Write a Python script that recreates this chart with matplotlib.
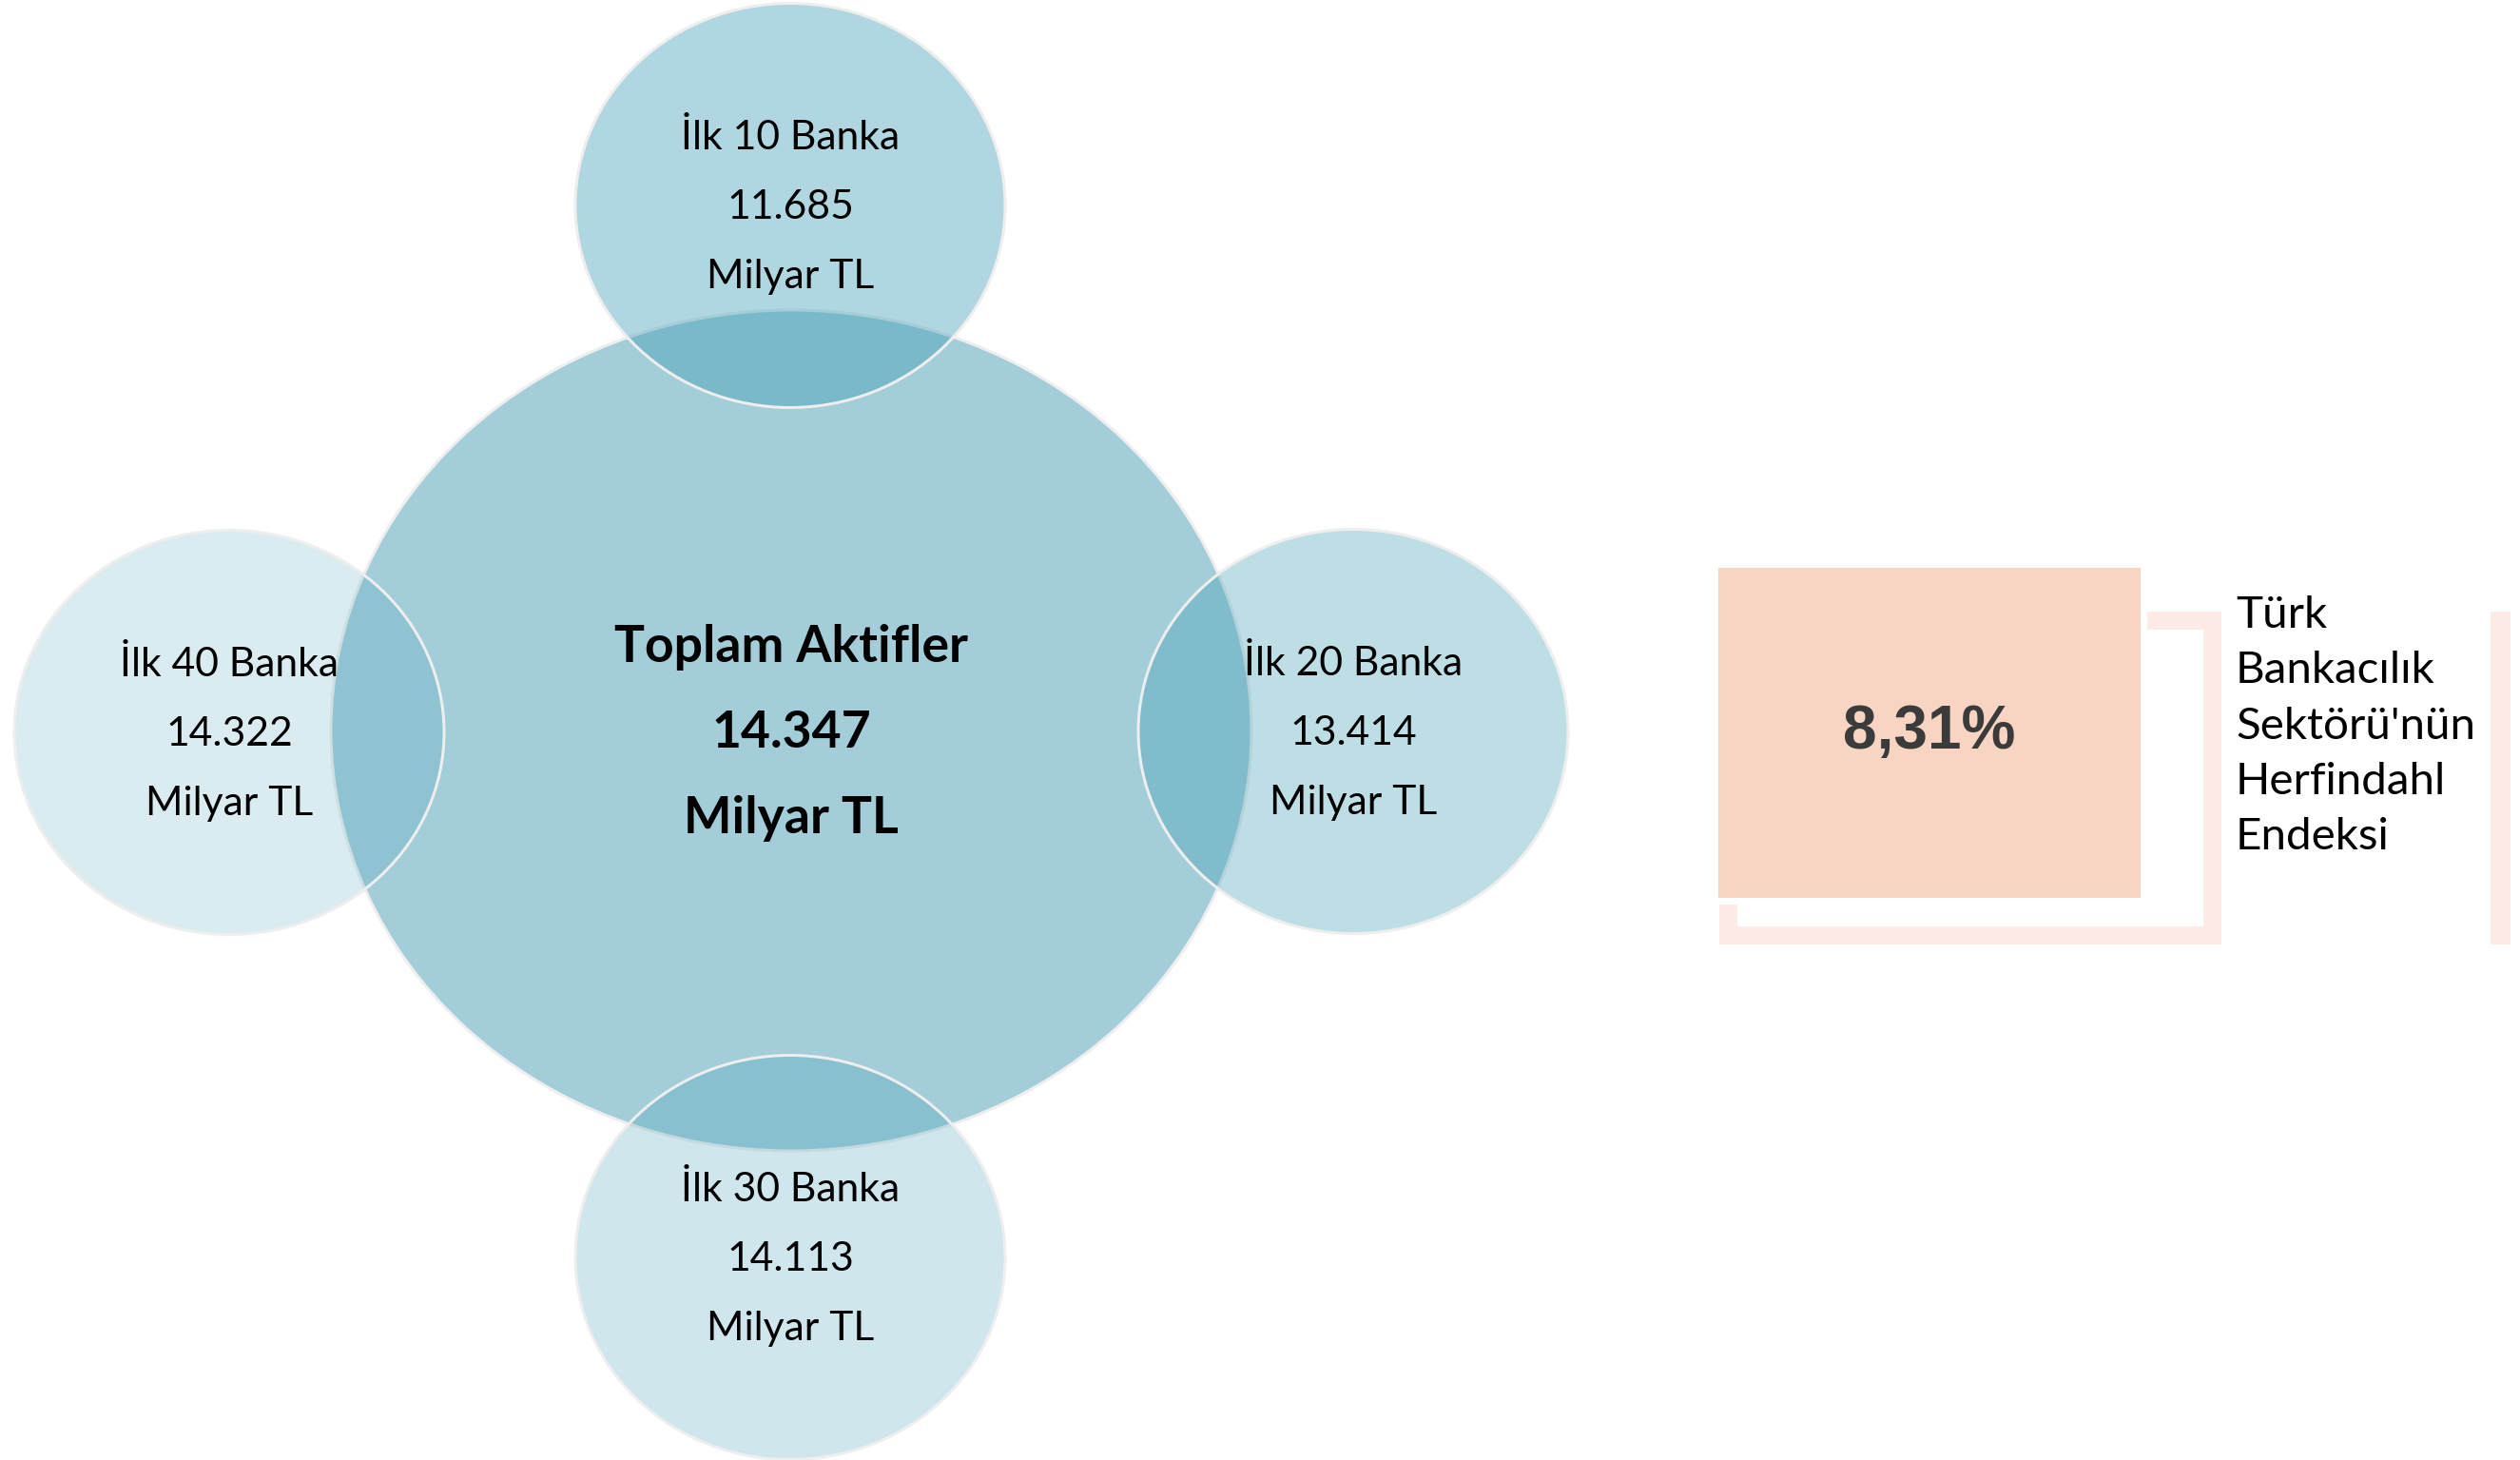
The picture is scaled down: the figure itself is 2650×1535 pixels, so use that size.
import matplotlib
matplotlib.use("Agg")
import matplotlib.pyplot as plt
from matplotlib.patches import Ellipse, Rectangle

# ---------------- data ----------------
group_labels = ["İlk 10 Banka", "İlk 20 Banka", "İlk 30 Banka", "İlk 40 Banka"]
group_values = ["11.685", "13.414", "14.113", "14.322"]
unit_label = "Milyar TL"
total_label = "Toplam Aktifler"
total_value = "14.347"
hhi_value = "8,31%"
hhi_label_lines = ["Türk", "Bankacılık", "Sektörü'nün", "Herfindahl", "Endeksi"]

# ---------------- layout / style ----------------
W, H, DPI = 2650, 1535, 100
PT = 72.0 / DPI  # pixels -> points

base_teal = (58 / 255, 155 / 255, 180 / 255)
center_color = "#A3CDD9"
edge_color = "#EEEEEE"

# centres (px) of the satellite circles: top, right, bottom, left
sat_centres = [(831, 216), (1423, 769), (831, 1322), (241, 770)]
sat_alpha = [0.40, 0.325, 0.245, 0.18]
sat_rx, sat_ry = 226, 212.5

fig = plt.figure(figsize=(W / DPI, H / DPI), dpi=DPI)
ax = fig.add_axes([0, 0, 1, 1])
ax.set_xlim(0, W)
ax.set_ylim(H, 0)
ax.axis("off")

# central circle
ax.add_patch(Ellipse((832, 768), 2 * 484, 2 * 442, facecolor=center_color,
                     edgecolor=edge_color, lw=3 * PT, zorder=1))

# satellites
for (cx, cy), a in zip(sat_centres, sat_alpha):
    ax.add_patch(Ellipse((cx, cy), 2 * sat_rx, 2 * sat_ry,
                         facecolor=(*base_teal, a), edgecolor=edge_color,
                         lw=3 * PT, zorder=2))

font_reg = ["Lato", "DejaVu Sans"]
small_fs = 42.6 * PT
line_dy = 73
for (cx, cy), lab, val in zip(sat_centres, group_labels, group_values):
    for k, s in enumerate([lab, val, unit_label]):
        ax.text(cx, cy - 59 + k * line_dy, s, ha="center", va="baseline",
                fontsize=small_fs, family=font_reg, color="black", zorder=5)

big_fs = 53.5 * PT
for k, s in enumerate([total_label, total_value, unit_label]):
    ax.text(832, 696 + k * 90, s, ha="center", va="baseline", fontsize=big_fs,
            family=font_reg, fontweight="bold", color="black", zorder=5)

# ---------------- right panel ----------------
frame_col = "#FDEBE5"
t = 19
fx0, fx1, fy0, fy1 = 1808, 2336, 643, 993
for (x, y, w, h) in [(fx0, fy0, fx1 - fx0, t), (fx0, fy1 - t, fx1 - fx0, t),
                     (fx0, fy0, t, fy1 - fy0), (fx1 - t, fy0, t, fy1 - fy0)]:
    ax.add_patch(Rectangle((x, y), w, h, facecolor=frame_col, edgecolor="none", zorder=1))

ax.add_patch(Rectangle((1803, 593), 2254 - 1803, 947 - 593, facecolor="#F8D4C2",
                       edgecolor="white", lw=7 * PT, zorder=2))
ax.text((1803 + 2254) / 2, 770, hhi_value, ha="center", va="center",
        fontsize=64 * PT, family=["Liberation Sans", "Arimo", "DejaVu Sans"],
        fontweight="bold", color="#3B3B3B", zorder=5)

ax.add_patch(Rectangle((2619, 643), 21, 993 - 643, facecolor=frame_col,
                       edgecolor="none", zorder=1))

for k, s in enumerate(hhi_label_lines):
    ax.text(2351, 660 + k * 58.3, s, ha="left", va="baseline",
            fontsize=47.5 * PT, family=font_reg, color="black", zorder=5)

fig.savefig("out.png", dpi=DPI, facecolor="white")
